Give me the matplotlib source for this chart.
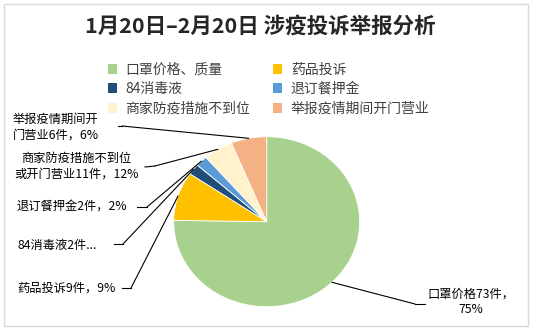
import matplotlib
matplotlib.use("Agg")
import matplotlib.pyplot as plt
import numpy as np
from matplotlib.patches import Patch, Rectangle, ConnectionPatch
from matplotlib.lines import Line2D

plt.rcParams['font.family'] = ['Noto Sans CJK SC', 'DejaVu Sans']

W, H = 535, 333
title = "1月20日–2月20日 涉疫投诉举报分析"
categories = ["口罩价格、质量", "药品投诉", "84消毒液", "退订餐押金",
              "商家防疫措施不到位", "举报疫情期间开门营业"]
values = [73, 9, 2, 2, 5, 6]
colors = ["#A9D18E", "#FFC000", "#1F4E79", "#5B9BD5", "#FFF2CC", "#F4B183"]
data_labels = ["口罩价格73件，\n75%", "药品投诉9件，9%", "84消毒液2件...",
               "退订餐押金2件，2%", "商家防疫措施不到位\n或开门营业11件，12%",
               "举报疫情期间开\n门营业6件，6%"]

fig = plt.figure(figsize=(W / 100, H / 100), dpi=100)
fig.patch.set_facecolor("white")

def fx(x):
    return x / W

def fy(y):
    return 1 - y / H

# border
fig.add_artist(Rectangle((fx(3.5), fy(325.5)), fx(527.5) - fx(3.5), fy(4) - fy(325.5),
                         transform=fig.transFigure, fill=False,
                         edgecolor="#D9D9D9", linewidth=1.0))

# pie axes
cx, cy, rx, ry = 266.7, 221.7, 93, 85
ax = fig.add_axes([fx(cx - rx), fy(cy + ry), 2 * rx / W, 2 * ry / H])
wedges, _ = ax.pie(values, colors=colors, startangle=90, counterclock=False,
                   wedgeprops=dict(edgecolor="white", linewidth=0.6))
ax.set_aspect("auto")
ax.set_xlim(-1, 1)
ax.set_ylim(-1, 1)
ax.axis("off")

fig.text(fx(260), fy(27), title, ha="center", va="center",
         fontsize=15.5, fontweight="bold", color="#262626")

# legend (row-major order)
handles = [Patch(facecolor=c, edgecolor="none") for c in colors]
order = [0, 2, 4, 1, 3, 5]
fig.legend([handles[i] for i in order], [categories[i] for i in order],
           ncol=2, loc="upper left", bbox_to_anchor=(fx(95), fy(50)),
           frameon=False, fontsize=10, handlelength=0.7, handleheight=0.7,
           handletextpad=0.6, labelspacing=0.4, columnspacing=1.6,
           labelcolor="#404040")

# data labels: (text x, text y, ha, line start, elbow)
label_pos = {
    0: dict(tx=471, ty=302, ha="center", p0=(425, 304), p1=(415, 304)),
    1: dict(tx=17, ty=288, ha="left", p0=(122, 288), p1=(131, 288)),
    2: dict(tx=17, ty=245, ha="left", p0=(114, 244), p1=(123, 244)),
    3: dict(tx=17, ty=207, ha="left", p0=(137, 207), p1=(147, 207)),
    4: dict(tx=76, ty=166, ha="center", p0=(145, 167), p1=(155, 166)),
    5: dict(tx=13, ty=127, ha="left", p0=(118, 126), p1=(122, 126)),
}
for i, w in enumerate(wedges):
    lp = label_pos[i]
    fig.text(fx(lp["tx"]), fy(lp["ty"]), data_labels[i], ha=lp["ha"], va="center",
             multialignment=lp["ha"], fontsize=8.8, color="black", linespacing=1.25)
    ang = np.deg2rad((w.theta1 + w.theta2) / 2)
    ex, ey = np.cos(ang), np.sin(ang)
    fig.add_artist(Line2D([fx(lp["p0"][0]), fx(lp["p1"][0])],
                          [fy(lp["p0"][1]), fy(lp["p1"][1])],
                          transform=fig.transFigure, color="black", lw=0.8))
    con = ConnectionPatch(xyA=(fx(lp["p1"][0]), fy(lp["p1"][1])), coordsA=fig.transFigure,
                          xyB=(ex, ey), coordsB=ax.transData, color="black", lw=0.8)
    fig.add_artist(con)

fig.savefig("out.png", dpi=100)
